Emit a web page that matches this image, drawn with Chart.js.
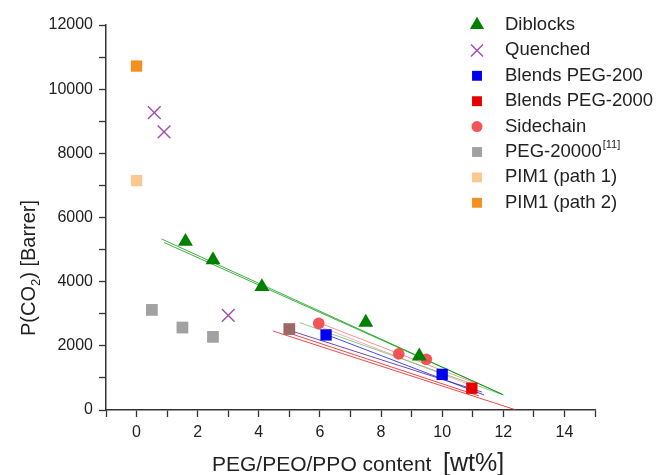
<!DOCTYPE html>
<html>
<head>
<meta charset="utf-8">
<script src="https://cdn.jsdelivr.net/npm/chart.js@4.4.1/dist/chart.umd.min.js"></script>
<style>
  body { margin: 0; background: #fff; }
  #grafico { display: block; }
</style>
</head>
<body>
<canvas id="grafico" width="660" height="475"></canvas>
<script>
// permeabilidade de CO2 x teor de PEG/PEO/PPO
const diblocosX = [1.6, 2.5, 4.1, 7.5, 9.25]
const diblocosY = [5250, 4680, 3840, 2730, 1680]

const temperadoX = [0.58, 0.9, 3.0]
const temperadoY = [9270, 8670, 2950]

const peg200X = [6.2, 10.0]
const peg200Y = [2340, 1110]

const peg2000X = [5.0, 10.97]
const peg2000Y = [2520, 680]

const cadeiaLateralX = [5.96, 8.58, 9.48]
const cadeiaLateralY = [2700, 1750, 1580]

const peg20000X = [0.5, 1.5, 2.5, 5.0]
const peg20000Y = [3120, 2570, 2280, 2520]

const pim1Caminho1X = [0]
const pim1Caminho1Y = [7150]
const pim1Caminho2X = [0]
const pim1Caminho2Y = [10720]

// retas de ajuste (inicio e fim)
const ajusteNomes = ['diblocos A', 'diblocos B', 'verde claro', 'cadeia A', 'cadeia B', 'peg200', 'roxo', 'peg2000 A', 'peg2000 B']
const ajusteX0 = [0.82, 0.9, 5.35, 5.96, 6.0, 6.18, 4.98, 4.98, 4.47]
const ajusteY0 = [5330, 5220, 2720, 2720, 2600, 2360, 2490, 2400, 2460]
const ajusteX1 = [12.0, 11.95, 12.0, 11.0, 11.0, 11.37, 11.3, 11.2, 12.42]
const ajusteY1 = [470, 500, 470, 870, 750, 470, 560, 440, 0]
const ajusteCores = ['rgba(0,150,0,0.75)', 'rgba(0,150,0,0.75)', 'rgba(110,190,110,0.8)',
  'rgba(245,120,120,0.8)', 'rgba(245,140,140,0.7)', 'rgba(40,40,230,0.85)',
  'rgba(90,40,150,0.85)', 'rgba(235,40,40,0.85)', 'rgba(235,40,40,0.85)']

const xTicksMin = -1
const xTicksMax = 15
const yTicksMin = 0
const yTicksMax = 12000

const fonte = '"Liberation Sans", Arial, sans-serif'
const ctx = document.getElementById('grafico')

function pontos(xs, ys) {
    return xs.map((x, i) => ({ x: x, y: ys[i] }))
}

function serie(label, xs, ys, estilo, raio, raioLegenda, cor, extra) {
    return Object.assign({
        label: label,
        data: pontos(xs, ys),
        showLine: false,
        pointStyle: estilo,
        pointRadius: raio,
        pointHoverRadius: raio,
        raioLegenda: raioLegenda,
        backgroundColor: cor,
        borderColor: cor,
        borderWidth: 0,
        order: 1
    }, extra || {})
}

const series = [
    serie('Diblocks', diblocosX, diblocosY, 'triangle', 8.6, 8.2, '#008000'),
    serie('Quenched', temperadoX, temperadoY, 'crossRot', 9, 8.5, '#a24bb0', { borderWidth: 1.4 }),
    serie('Blends PEG-200', peg200X, peg200Y, 'rect', 8, 7, '#0000f0'),
    serie('Blends PEG-2000', peg2000X, peg2000Y, 'rect', 8, 7, '#e60000'),
    serie('Sidechain', cadeiaLateralX, cadeiaLateralY, 'circle', 5.8, 5.5, 'rgba(240,70,70,0.92)'),
    serie('PEG-20000', peg20000X, peg20000Y, 'rect', 8.3, 7, 'rgba(135,135,135,0.78)', { order: 0 }),
    serie('PIM1 (path 1)', pim1Caminho1X, pim1Caminho1Y, 'rect', 8, 7, '#fac890'),
    serie('PIM1 (path 2)', pim1Caminho2X, pim1Caminho2Y, 'rect', 8, 7, '#f5901e')
]

const retas = ajusteNomes.map((nome, i) => ({
    label: nome,
    data: [{ x: ajusteX0[i], y: ajusteY0[i] }, { x: ajusteX1[i], y: ajusteY1[i] }],
    showLine: true,
    pointRadius: 0,
    borderColor: ajusteCores[i],
    borderWidth: 1,
    order: 5
}))

// legenda desenhada dentro da area do grafico
const legendaDentro = {
    id: 'legendaDentro',
    afterDraw(chart) {
        const c = chart.ctx
        c.save()
        series.forEach((ds, i) => {
            const y = 25 + i * 25.4
            c.fillStyle = ds.backgroundColor
            c.strokeStyle = ds.borderColor
            c.lineWidth = ds.borderWidth
            Chart.helpers.drawPoint(c, {
                pointStyle: ds.pointStyle,
                radius: ds.raioLegenda,
                borderWidth: ds.borderWidth,
                rotation: 0
            }, 477, y)
            c.fillStyle = '#222'
            c.font = '18.5px ' + fonte
            c.textAlign = 'left'
            c.textBaseline = 'middle'
            c.fillText(ds.label, 505, y)
            if (ds.label == 'PEG-20000') {
                const w = c.measureText(ds.label).width
                c.font = '11px ' + fonte
                c.fillText('[11]', 505 + w + 1, y - 7)
            }
        })
        c.restore()
    }
}

// titulos dos eixos com subscrito e tamanhos diferentes
const titulosEixos = {
    id: 'titulosEixos',
    afterDraw(chart) {
        const c = chart.ctx
        c.save()
        c.fillStyle = '#222'
        c.textBaseline = 'alphabetic'
        c.textAlign = 'left'

        // eixo y
        const partes = [['P(CO', 20, 0], ['2', 13, 5], [') [Barrer]', 20, 0]]
        let total = 0
        partes.forEach(p => { c.font = p[1] + 'px ' + fonte; total += c.measureText(p[0]).width })
        c.translate(35, 268)
        c.rotate(-Math.PI / 2)
        let x = -total / 2
        partes.forEach(p => {
            c.font = p[1] + 'px ' + fonte
            c.fillText(p[0], x, p[2])
            x += c.measureText(p[0]).width
        })
        c.setTransform(1, 0, 0, 1, 0, 0)

        // eixo x
        c.font = '21px ' + fonte
        c.fillText('PEG/PEO/PPO content  ', 212, 471)
        const w = c.measureText('PEG/PEO/PPO content  ').width
        c.font = '25px ' + fonte
        c.fillText('[wt%]', 212 + w, 471)
        c.restore()
    }
}

new Chart(ctx, {
    type: 'scatter',
    data: { datasets: series.concat(retas) },
    options: {
        responsive: false,
        animation: false,
        devicePixelRatio: 1,
        layout: { padding: { top: 25, right: 65, left: 0, bottom: 0 } },
        plugins: {
            legend: { display: false },
            tooltip: { enabled: false }
        },
        scales: {
            x: {
                type: 'linear',
                min: xTicksMin,
                max: xTicksMax,
                afterFit: s => { s.height = 65 },
                ticks: {
                    stepSize: 1,
                    autoSkip: false,
                    maxRotation: 0,
                    padding: 6,
                    color: '#222',
                    font: { size: 16, family: fonte },
                    callback: v => (v >= 0 && v <= 14 && v % 2 == 0) ? v : ''
                },
                grid: { drawOnChartArea: false, tickLength: 7, tickColor: '#333', tickWidth: 1.3 },
                border: { color: '#333', width: 1.5 }
            },
            y: {
                min: yTicksMin,
                max: yTicksMax,
                afterFit: s => { s.width = 106 },
                ticks: {
                    stepSize: 1000,
                    autoSkip: false,
                    padding: 6,
                    color: '#222',
                    font: { size: 16, family: fonte },
                    callback: v => v % 2000 == 0 ? v : ''
                },
                grid: { drawOnChartArea: false, tickLength: 7, tickColor: '#333', tickWidth: 1.3 },
                border: { color: '#333', width: 1.5 }
            }
        }
    },
    plugins: [legendaDentro, titulosEixos]
})
</script>
</body>
</html>
